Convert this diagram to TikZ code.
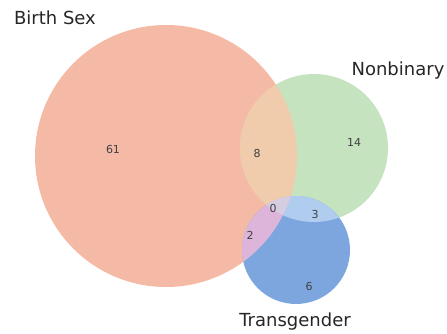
\documentclass[tikz,border=0pt]{standalone}
\usepackage{fontspec}
\setmainfont{DejaVu Sans}
\usetikzlibrary{positioning}
\definecolor{bscol}{RGB}{245,186,166}
\definecolor{nbcol}{RGB}{198,227,192}
\definecolor{tgcol}{RGB}{125,166,222}
\definecolor{bsnbcol}{RGB}{240,204,172}
\definecolor{nbtgcol}{RGB}{176,204,238}
\definecolor{bstgcol}{RGB}{221,180,218}
\definecolor{allcol}{RGB}{214,206,224}

\begin{document}
\begin{tikzpicture}[
    x=1pt, y=-1pt,
    setlabel/.style={font=\fontsize{18}{21}\selectfont, text=black!85},
    countlabel/.style={font=\fontsize{11}{13}\selectfont, text=black!75},
]
    \useasboundingbox (0,0) rectangle (447,334);

    % Set circles
    \fill[bscol] (166,156) circle (131);
    \fill[nbcol] (314,148) circle (74);
    \fill[tgcol] (296,250) circle (54);

    % Overlaps
    \begin{scope}
        \clip (166,156) circle (131);
        \fill[bsnbcol] (314,148) circle (74);
    \end{scope}
    \begin{scope}
        \clip (314,148) circle (74);
        \fill[nbtgcol] (296,250) circle (54);
    \end{scope}
    \begin{scope}
        \clip (166,156) circle (131);
        \fill[bstgcol] (296,250) circle (54);
    \end{scope}
    \begin{scope}
        \clip (166,156) circle (131);
        \clip (314,148) circle (74);
        \fill[allcol] (296,250) circle (54);
    \end{scope}

    % Set names
    \node[setlabel] (bsname) at (55,18) {Birth Sex};
    \node[setlabel] (nbname) at (398,71) {Nonbinary};
    \node[setlabel] (tgname) at (295,322) {Transgender};

    % Counts
    \node[countlabel] (bsonly) at (113,149) {61};
    \node[countlabel] (bsnb) at (257,153) {8};
    \node[countlabel] (nbonly) at (354,142) {14};
    \node[countlabel] (center) at (273,208) {0};
    \node[countlabel] (nbtg) at (315,214) {3};
    \node[countlabel] (bstg) at (250,235) {2};
    \node[countlabel] (tgonly) at (309,286) {6};
\end{tikzpicture}
\end{document}
